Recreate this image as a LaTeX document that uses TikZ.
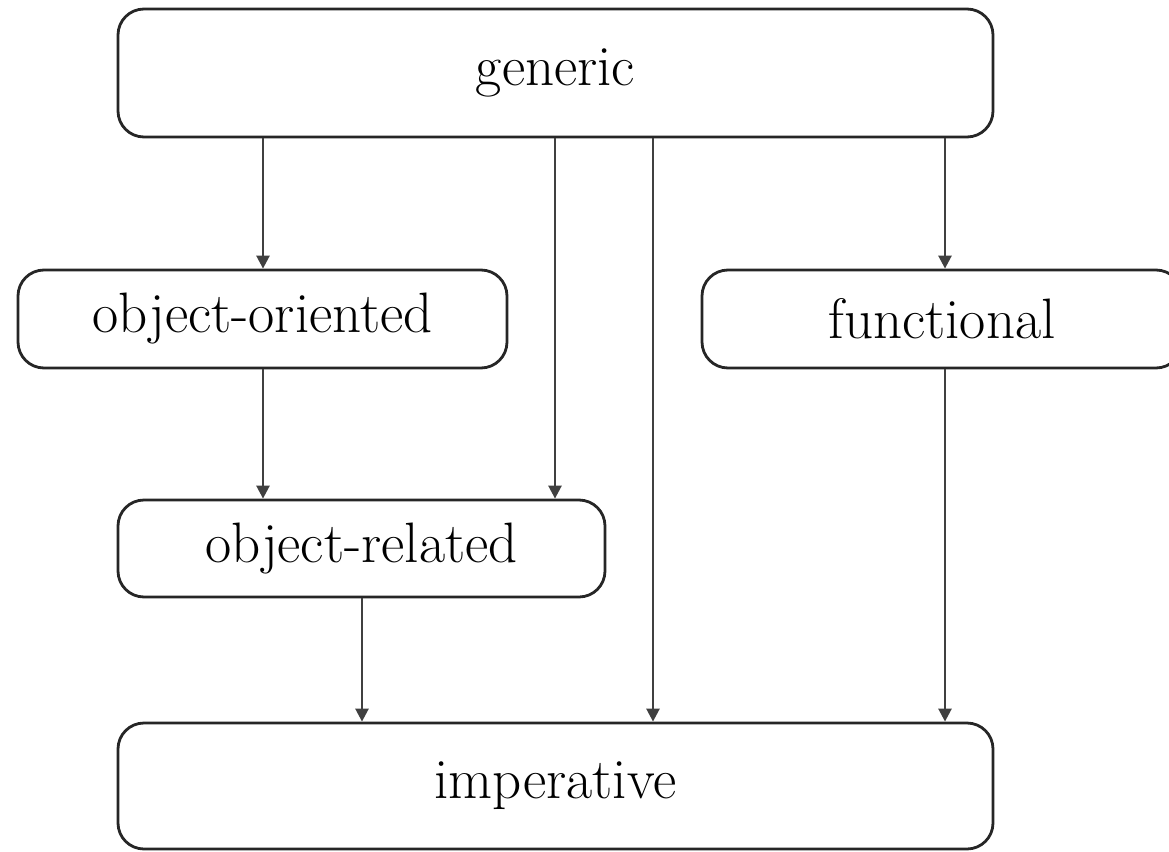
\documentclass[tikz,border=0pt]{standalone}
\usetikzlibrary{arrows.meta}
\begin{document}
\begin{tikzpicture}[x=1pt,y=-1pt,
  box/.style={draw=black!85, line width=2.8pt, rounded corners=26pt, inner sep=0pt,
    font=\fontsize{57}{64}\selectfont},
  conn/.style={draw=black!75, line width=2.6pt, -{Triangle[width=13pt,length=13pt]}}]
\clip (0,0) rectangle (1169,851);
\node[box, minimum width=875pt, minimum height=128pt] (generic) at (555.5,73) {generic};
\node[box, minimum width=489pt, minimum height=98pt] (objor) at (262.5,319) {object-oriented};
\node[box, minimum width=480pt, minimum height=98pt] (func) at (942,319) {functional};
\node[box, minimum width=487pt, minimum height=97pt] (objrel) at (361.5,548.5) {object-related};
\node[box, minimum width=875pt, minimum height=126pt] (imp) at (555.5,786) {imperative};
\coordinate (c1) at (263,0);
\coordinate (c2) at (555,0);
\coordinate (c3) at (653,0);
\coordinate (c4) at (945,0);
\coordinate (c5) at (362,0);
\draw[conn] (generic.south -| c1) -- (objor.north -| c1);
\draw[conn] (generic.south -| c2) -- (objrel.north -| c2);
\draw[conn] (generic.south -| c3) -- (imp.north -| c3);
\draw[conn] (generic.south -| c4) -- (func.north -| c4);
\draw[conn] (objor.south -| c1) -- (objrel.north -| c1);
\draw[conn] (objrel.south -| c5) -- (imp.north -| c5);
\draw[conn] (func.south -| c4) -- (imp.north -| c4);
\end{tikzpicture}
\end{document}
